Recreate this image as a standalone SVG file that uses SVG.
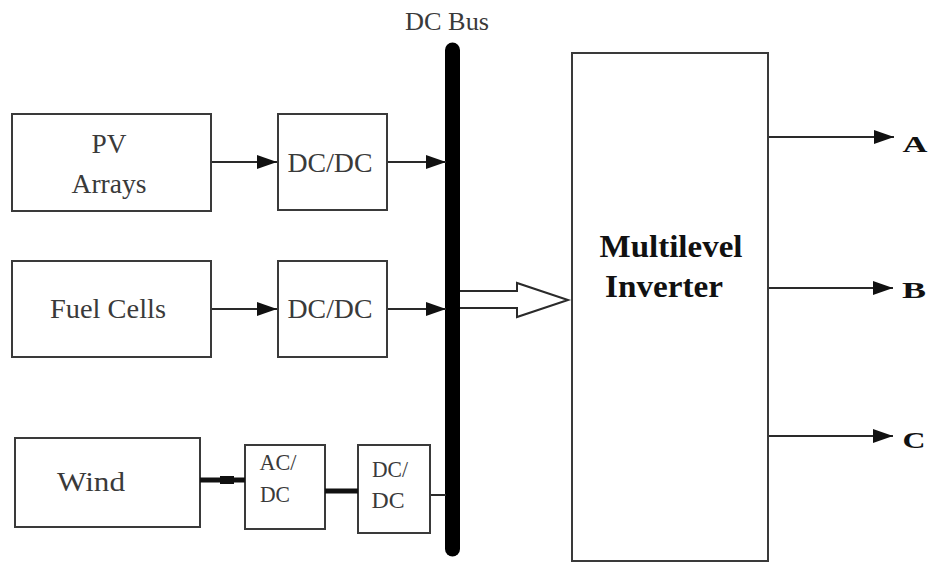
<svg xmlns="http://www.w3.org/2000/svg" width="931" height="562" viewBox="0 0 931 562">
<defs>
<style>
.box{fill:#fff;stroke:#3a3a3a;stroke-width:2}
.ln{stroke:#2a2a2a;stroke-width:2;fill:none}
.thick{stroke:#111;stroke-width:5;fill:none}
text{font-family:"Liberation Serif","Times New Roman",serif}
.t{fill:#3a3a3a;text-anchor:middle}
.b{fill:#111;font-weight:bold;text-anchor:middle}
</style>
<marker id="ah2" viewBox="0 0 10 10" refX="10" refY="5" markerWidth="20" markerHeight="14" markerUnits="userSpaceOnUse" orient="auto" preserveAspectRatio="none">
<path d="M0,0 L10,5 L0,10 Z" fill="#111"/>
</marker>
</defs>
<rect width="931" height="562" fill="#fff"/>
<g id="pv"><rect class="box" x="12" y="114" width="199" height="97"/><text class="t" x="109" y="153" font-size="27" textLength="35" lengthAdjust="spacingAndGlyphs">PV</text><text class="t" x="109" y="193" font-size="27" textLength="75" lengthAdjust="spacingAndGlyphs">Arrays</text></g>
<g id="dcdc1"><rect class="box" x="278" y="114" width="109" height="96"/><text class="t" x="330" y="172" font-size="27" textLength="85" lengthAdjust="spacingAndGlyphs">DC/DC</text></g>
<g id="fuel"><rect class="box" x="12" y="261" width="199" height="96"/><text class="t" x="108" y="318" font-size="27" textLength="116" lengthAdjust="spacingAndGlyphs">Fuel Cells</text></g>
<g id="dcdc2"><rect class="box" x="278" y="261" width="109" height="96"/><text class="t" x="330" y="318" font-size="27" textLength="85" lengthAdjust="spacingAndGlyphs">DC/DC</text></g>
<g id="wind"><rect class="box" x="15" y="438" width="185" height="89"/><text class="t" x="91" y="491" font-size="28" textLength="68" lengthAdjust="spacingAndGlyphs">Wind</text></g>
<g id="acdc"><rect class="box" x="245" y="445" width="80" height="84"/><text class="t" x="278" y="470" font-size="23" textLength="37" lengthAdjust="spacingAndGlyphs">AC/</text><text class="t" x="275" y="502" font-size="23" textLength="30" lengthAdjust="spacingAndGlyphs">DC</text></g>
<g id="dcdc3"><rect class="box" x="358" y="445" width="72" height="88"/><text class="t" x="390" y="477" font-size="23" textLength="36" lengthAdjust="spacingAndGlyphs">DC/</text><text class="t" x="388" y="508" font-size="23" textLength="33" lengthAdjust="spacingAndGlyphs">DC</text></g>
<g id="bus"><line x1="452.5" y1="50" x2="452.5" y2="549" stroke="#000" stroke-width="15" stroke-linecap="round"/><text class="t" x="447" y="30" font-size="26" textLength="84" lengthAdjust="spacingAndGlyphs">DC Bus</text></g>
<g id="inverter"><rect class="box" x="572" y="53" width="196" height="508"/><text class="b" x="671" y="257" font-size="32" textLength="143" lengthAdjust="spacingAndGlyphs">Multilevel</text><text class="b" x="664" y="297" font-size="32" textLength="118" lengthAdjust="spacingAndGlyphs">Inverter</text></g>
<g id="outputs"><text class="b" x="915" y="152" font-size="23" textLength="25" lengthAdjust="spacingAndGlyphs">A</text><text class="b" x="914" y="298" font-size="23" textLength="24" lengthAdjust="spacingAndGlyphs">B</text><text class="b" x="914" y="448" font-size="23" textLength="23" lengthAdjust="spacingAndGlyphs">C</text></g>
<g id="connectors">
<line class="ln" x1="212" y1="162" x2="277" y2="162" marker-end="url(#ah2)"/>
<line class="ln" x1="388" y1="162" x2="446" y2="162" marker-end="url(#ah2)"/>
<line class="ln" x1="212" y1="309" x2="277" y2="309" marker-end="url(#ah2)"/>
<line class="ln" x1="388" y1="309" x2="446" y2="309" marker-end="url(#ah2)"/>
<line class="thick" x1="200" y1="480" x2="245" y2="480"/>
<line x1="220" y1="480" x2="234" y2="480" stroke="#111" stroke-width="8"/>
<line class="thick" x1="325" y1="491" x2="358" y2="491"/>
<line class="ln" x1="431" y1="495" x2="446" y2="495"/>
<path d="M460,291 L517,291 L517,283 L568,300 L517,317 L517,308 L460,308" fill="#fff" stroke="#2a2a2a" stroke-width="2"/>
<line class="ln" x1="769" y1="137" x2="894" y2="137" marker-end="url(#ah2)"/>
<line class="ln" x1="769" y1="288" x2="893" y2="288" marker-end="url(#ah2)"/>
<line class="ln" x1="769" y1="436" x2="893" y2="436" marker-end="url(#ah2)"/>
</g>
</svg>
